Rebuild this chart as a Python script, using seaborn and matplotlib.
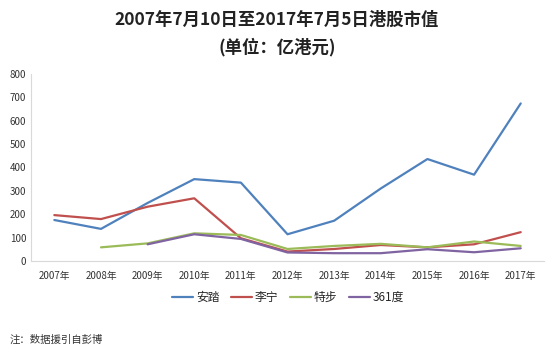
import numpy as np
import pandas as pd
from matplotlib import pyplot as plt
import seaborn as sns

sns.set_style('white')
plt.rcParams['font.family'] = ['Noto Sans CJK SC', 'DejaVu Sans']

years = ['2007年', '2008年', '2009年', '2010年', '2011年', '2012年',
         '2013年', '2014年', '2015年', '2016年', '2017年']
brands = ['安踏', '李宁', '特步', '361度']
anta = [175, 137, 248, 350, 335, 114, 172, 310, 436, 369, 674]
lining = [196, 179, 232, 268, 97, 40, 51, 68, 58, 71, 123]
xtep = [np.nan, 58, 75, 118, 111, 51, 64, 73, 58, 83, 64]
d361 = [np.nan, np.nan, 71, 114, 94, 36, 33, 33, 50, 37, 54]
colors = ['#4F81BD', '#C0504D', '#9BBB59', '#8064A2']

df = pd.DataFrame({'pos': list(range(len(years))) * 4,
                   'brand': np.repeat(brands, len(years)),
                   'value': anta + lining + xtep + d361}).dropna()

fig = plt.figure(figsize=(5.54, 3.54), dpi=100)
ax = fig.add_axes([0.056, 0.263, 0.926, 0.528])
sns.lineplot(x='pos', y='value', hue='brand', hue_order=brands, palette=colors,
             data=df, linewidth=1.6, legend=False, ax=ax)

ax.set_xlim(-0.5, 10.5)
ax.set_ylim(0, 800)
ax.set_yticks(range(0, 801, 100))
ax.set_xticks(range(len(years)))
ax.set_xticklabels(years)
ax.tick_params(axis='both', labelsize=7, length=0, colors='#333333')
ax.tick_params(axis='x', pad=7)
ax.set_xlabel('')
ax.set_ylabel('')
for s in ['top', 'right']:
    ax.spines[s].set_visible(False)
for s in ['left', 'bottom']:
    ax.spines[s].set_color('#d9d9d9')
    ax.spines[s].set_linewidth(0.8)

handles = [plt.Line2D([], [], color=c, linewidth=1.6) for c in colors]
fig.legend(handles, brands, loc='center', bbox_to_anchor=(0.52, 0.16), ncol=4,
           frameon=False, fontsize=8.5, handlelength=1.8, handletextpad=0.2,
           columnspacing=1.0)

fig.text(0.5, 0.945, '2007年7月10日至2017年7月5日港股市值', ha='center', va='center',
         fontsize=12.5, fontweight='bold', color='#222222')
fig.text(0.5, 0.867, '(单位：亿港元)', ha='center', va='center',
         fontsize=12.5, fontweight='bold', color='#222222')
fig.text(0.018, 0.04, '注：数据援引自彭博', ha='left', va='center',
         fontsize=7.5, style='italic', color='#333333')

plt.savefig('out.png', dpi=100)
